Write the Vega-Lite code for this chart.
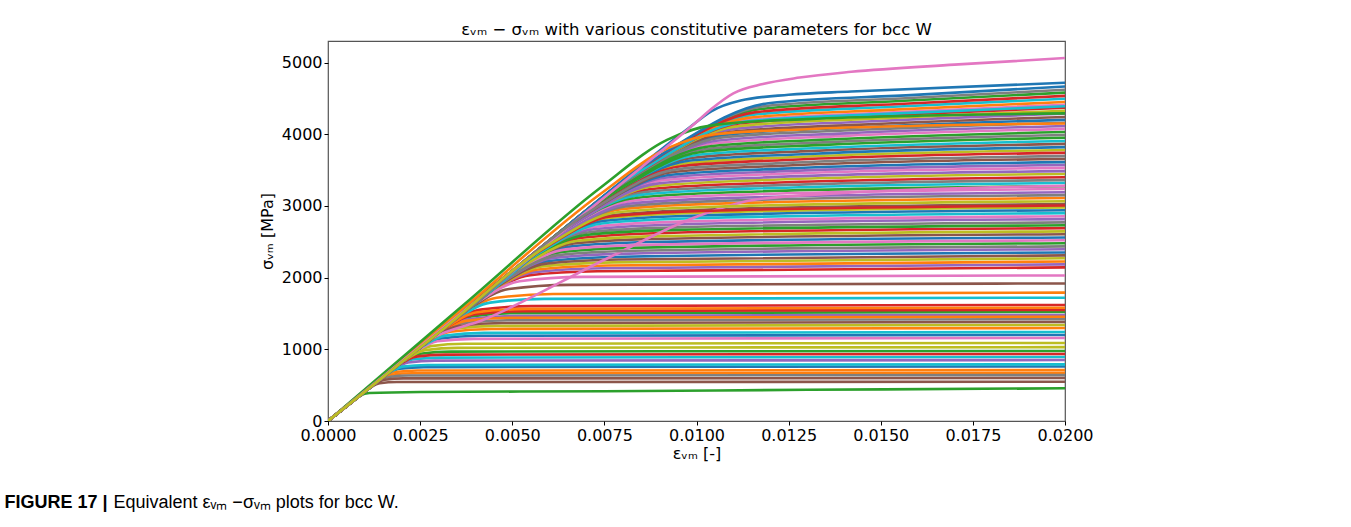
{
  "$schema": "https://vega.github.io/schema/vega-lite/v6.json",
  "width": 737,
  "height": 380,
  "autosize": {"type": "none"},
  "padding": {"left": 328, "top": 41, "right": 286, "bottom": 106},
  "background": "white",
  "title": {
    "text": "εᵥₘ − σᵥₘ with various constitutive parameters for bcc W",
    "font": "DejaVu Sans",
    "fontSize": 16.5,
    "fontWeight": "normal",
    "color": "black",
    "anchor": "middle",
    "offset": 3
  },
  "config": {
    "view": {"stroke": "#555555", "strokeWidth": 1.2},
    "axis": {
      "labelFont": "DejaVu Sans",
      "labelFontSize": 16,
      "labelColor": "black",
      "titleFont": "DejaVu Sans",
      "titleFontSize": 16,
      "titleFontWeight": "normal",
      "titleColor": "black",
      "tickColor": "black",
      "tickSize": 4,
      "labelPadding": 2,
      "domain": false,
      "grid": false,
      "labelFlush": false,
      "labelOverlap": false
    }
  },
  "layer": [
    {
      "data": {
        "values": [
          {"c":0,"e":0,"s":0},{"c":0,"e":0.0025,"s":1024},{"c":0,"e":0.005,"s":2048},{"c":0,"e":0.00656,"s":2432},{"c":0,"e":0.00874,"s":2496},{"c":0,"e":0.02,"s":2560},
          {"c":1,"e":0,"s":0},{"c":1,"e":0.001265,"s":519},{"c":1,"e":0.00253,"s":1038},{"c":1,"e":0.00332,"s":1245},{"c":1,"e":0.00443,"s":1284},{"c":1,"e":0.02,"s":1297},
          {"c":2,"e":0,"s":0},{"c":2,"e":0.00447,"s":1832},{"c":2,"e":0.00894,"s":3664},{"c":2,"e":0.01173,"s":4351},{"c":2,"e":0.01564,"s":4466},{"c":2,"e":0.02,"s":4580},
          {"c":3,"e":0,"s":0},{"c":3,"e":0.00209,"s":857},{"c":3,"e":0.00418,"s":1714},{"c":3,"e":0.00549,"s":2035},{"c":3,"e":0.00731,"s":2088},{"c":3,"e":0.02,"s":2142},
          {"c":4,"e":0,"s":0},{"c":4,"e":0.00418,"s":1714},{"c":4,"e":0.00836,"s":3428},{"c":4,"e":0.01097,"s":4071},{"c":4,"e":0.01463,"s":4178},{"c":4,"e":0.02,"s":4285},
          {"c":5,"e":0,"s":0},{"c":5,"e":0.00377,"s":1546},{"c":5,"e":0.00754,"s":3092},{"c":5,"e":0.0099,"s":3672},{"c":5,"e":0.0132,"s":3768},{"c":5,"e":0.02,"s":3865},
          {"c":6,"e":0,"s":0},{"c":6,"e":0.0043,"s":1764},{"c":6,"e":0.0086,"s":3528},{"c":6,"e":0.01129,"s":4190},{"c":6,"e":0.01506,"s":4300},{"c":6,"e":0.02,"s":4410},
          {"c":7,"e":0,"s":0},{"c":7,"e":0.004505,"s":1848},{"c":7,"e":0.00901,"s":3696},{"c":7,"e":0.01183,"s":4389},{"c":7,"e":0.01578,"s":4505},{"c":7,"e":0.02,"s":4620},
          {"c":8,"e":0,"s":0},{"c":8,"e":0.00369,"s":1512},{"c":8,"e":0.00738,"s":3024},{"c":8,"e":0.00968,"s":3591},{"c":8,"e":0.01291,"s":3686},{"c":8,"e":0.02,"s":3780},
          {"c":9,"e":0,"s":0},{"c":9,"e":0.004385,"s":1798},{"c":9,"e":0.00877,"s":3596},{"c":9,"e":0.01151,"s":4270},{"c":9,"e":0.01535,"s":4383},{"c":9,"e":0.02,"s":4495},
          {"c":10,"e":0,"s":0},{"c":10,"e":0.00117,"s":480},{"c":10,"e":0.00234,"s":960},{"c":10,"e":0.00307,"s":1152},{"c":10,"e":0.0041,"s":1188},{"c":10,"e":0.02,"s":1200},
          {"c":11,"e":0,"s":0},{"c":11,"e":0.00434,"s":1780},{"c":11,"e":0.00868,"s":3560},{"c":11,"e":0.0114,"s":4228},{"c":11,"e":0.0152,"s":4339},{"c":11,"e":0.02,"s":4450},
          {"c":12,"e":0,"s":0},{"c":12,"e":0.000955,"s":391},{"c":12,"e":0.00191,"s":782},{"c":12,"e":0.0025,"s":938},{"c":12,"e":0.00334,"s":967},{"c":12,"e":0.02,"s":977},
          {"c":13,"e":0,"s":0},{"c":13,"e":0.003315,"s":1360},{"c":13,"e":0.00663,"s":2720},{"c":13,"e":0.00871,"s":3230},{"c":13,"e":0.01161,"s":3315},{"c":13,"e":0.02,"s":3400},
          {"c":14,"e":0,"s":0},{"c":14,"e":0.00213,"s":874},{"c":14,"e":0.00426,"s":1748},{"c":14,"e":0.0056,"s":2076},{"c":14,"e":0.00746,"s":2130},{"c":14,"e":0.02,"s":2185},
          {"c":15,"e":0,"s":0},{"c":15,"e":0.000535,"s":219},{"c":15,"e":0.00107,"s":438},{"c":15,"e":0.0014,"s":526},{"c":15,"e":0.00187,"s":543},{"c":15,"e":0.02,"s":548},
          {"c":16,"e":0,"s":0},{"c":16,"e":0.003445,"s":1412},{"c":16,"e":0.00689,"s":2824},{"c":16,"e":0.00904,"s":3354},{"c":16,"e":0.01205,"s":3442},{"c":16,"e":0.02,"s":3530},
          {"c":17,"e":0,"s":0},{"c":17,"e":0.003895,"s":1596},{"c":17,"e":0.00779,"s":3192},{"c":17,"e":0.01022,"s":3791},{"c":17,"e":0.01362,"s":3890},{"c":17,"e":0.02,"s":3990},
          {"c":18,"e":0,"s":0},{"c":18,"e":0.00106,"s":435},{"c":18,"e":0.00212,"s":870},{"c":18,"e":0.00279,"s":1044},{"c":18,"e":0.00372,"s":1077},{"c":18,"e":0.02,"s":1088},
          {"c":19,"e":0,"s":0},{"c":19,"e":0.00087,"s":357},{"c":19,"e":0.00174,"s":714},{"c":19,"e":0.00229,"s":857},{"c":19,"e":0.00305,"s":884},{"c":19,"e":0.02,"s":893},
          {"c":20,"e":0,"s":0},{"c":20,"e":0.003725,"s":1528},{"c":20,"e":0.00745,"s":3056},{"c":20,"e":0.00978,"s":3629},{"c":20,"e":0.01304,"s":3725},{"c":20,"e":0.02,"s":3820},
          {"c":21,"e":0,"s":0},{"c":21,"e":0.000655,"s":269},{"c":21,"e":0.00131,"s":538},{"c":21,"e":0.00172,"s":645},{"c":21,"e":0.00229,"s":665},{"c":21,"e":0.02,"s":672},
          {"c":22,"e":0,"s":0},{"c":22,"e":0.00242,"s":992},{"c":22,"e":0.00484,"s":1984},{"c":22,"e":0.00635,"s":2356},{"c":22,"e":0.00847,"s":2418},{"c":22,"e":0.02,"s":2480},
          {"c":23,"e":0,"s":0},{"c":23,"e":0.00158,"s":647},{"c":23,"e":0.00316,"s":1294},{"c":23,"e":0.00414,"s":1553},{"c":23,"e":0.00552,"s":1602},{"c":23,"e":0.02,"s":1618},
          {"c":24,"e":0,"s":0},{"c":24,"e":0.003485,"s":1428},{"c":24,"e":0.00697,"s":2856},{"c":24,"e":0.00914,"s":3392},{"c":24,"e":0.01219,"s":3481},{"c":24,"e":0.02,"s":3570},
          {"c":25,"e":0,"s":0},{"c":25,"e":0.00295,"s":1210},{"c":25,"e":0.0059,"s":2420},{"c":25,"e":0.00775,"s":2874},{"c":25,"e":0.01033,"s":2949},{"c":25,"e":0.02,"s":3025},
          {"c":26,"e":0,"s":0},{"c":26,"e":0.00113,"s":463},{"c":26,"e":0.00226,"s":926},{"c":26,"e":0.00297,"s":1112},{"c":26,"e":0.00395,"s":1146},{"c":26,"e":0.02,"s":1158},
          {"c":27,"e":0,"s":0},{"c":27,"e":0.001385,"s":568},{"c":27,"e":0.00277,"s":1136},{"c":27,"e":0.00364,"s":1363},{"c":27,"e":0.00485,"s":1406},{"c":27,"e":0.02,"s":1420},
          {"c":28,"e":0,"s":0},{"c":28,"e":0.002905,"s":1192},{"c":28,"e":0.00581,"s":2384},{"c":28,"e":0.00763,"s":2831},{"c":28,"e":0.01018,"s":2906},{"c":28,"e":0.02,"s":2980},
          {"c":29,"e":0,"s":0},{"c":29,"e":0.00381,"s":1562},{"c":29,"e":0.00762,"s":3124},{"c":29,"e":0.01,"s":3710},{"c":29,"e":0.01333,"s":3807},{"c":29,"e":0.02,"s":3905},
          {"c":30,"e":0,"s":0},{"c":30,"e":0.00074,"s":304},{"c":30,"e":0.00148,"s":608},{"c":30,"e":0.00195,"s":730},{"c":30,"e":0.0026,"s":752},{"c":30,"e":0.02,"s":760},
          {"c":31,"e":0,"s":0},{"c":31,"e":0.00217,"s":890},{"c":31,"e":0.00434,"s":1780},{"c":31,"e":0.0057,"s":2114},{"c":31,"e":0.0076,"s":2169},{"c":31,"e":0.02,"s":2225},
          {"c":32,"e":0,"s":0},{"c":32,"e":0.003855,"s":1580},{"c":32,"e":0.00771,"s":3160},{"c":32,"e":0.01012,"s":3753},{"c":32,"e":0.01349,"s":3851},{"c":32,"e":0.02,"s":3950},
          {"c":33,"e":0,"s":0},{"c":33,"e":0.004425,"s":1814},{"c":33,"e":0.00885,"s":3628},{"c":33,"e":0.01161,"s":4308},{"c":33,"e":0.01549,"s":4422},{"c":33,"e":0.02,"s":4535},
          {"c":34,"e":0,"s":0},{"c":34,"e":0.00083,"s":340},{"c":34,"e":0.00166,"s":680},{"c":34,"e":0.00218,"s":816},{"c":34,"e":0.0029,"s":842},{"c":34,"e":0.02,"s":850},
          {"c":35,"e":0,"s":0},{"c":35,"e":0.00254,"s":1042},{"c":35,"e":0.00508,"s":2084},{"c":35,"e":0.00667,"s":2475},{"c":35,"e":0.0089,"s":2540},{"c":35,"e":0.02,"s":2605},
          {"c":36,"e":0,"s":0},{"c":36,"e":0.002785,"s":1142},{"c":36,"e":0.00557,"s":2284},{"c":36,"e":0.00731,"s":2712},{"c":36,"e":0.00975,"s":2784},{"c":36,"e":0.02,"s":2855},
          {"c":37,"e":0,"s":0},{"c":37,"e":0.00328,"s":1344},{"c":37,"e":0.00656,"s":2688},{"c":37,"e":0.0086,"s":3192},{"c":37,"e":0.01147,"s":3276},{"c":37,"e":0.02,"s":3360},
          {"c":38,"e":0,"s":0},{"c":38,"e":0.00336,"s":1378},{"c":38,"e":0.00672,"s":2756},{"c":38,"e":0.00882,"s":3273},{"c":38,"e":0.01176,"s":3359},{"c":38,"e":0.02,"s":3445},
          {"c":39,"e":0,"s":0},{"c":39,"e":0.00121,"s":497},{"c":39,"e":0.00242,"s":993},{"c":39,"e":0.00318,"s":1191},{"c":39,"e":0.00424,"s":1229},{"c":39,"e":0.02,"s":1241},
          {"c":40,"e":0,"s":0},{"c":40,"e":0.00287,"s":1176},{"c":40,"e":0.00574,"s":2352},{"c":40,"e":0.00753,"s":2793},{"c":40,"e":0.01004,"s":2867},{"c":40,"e":0.02,"s":2940},
          {"c":41,"e":0,"s":0},{"c":41,"e":0.001745,"s":716},{"c":41,"e":0.00349,"s":1432},{"c":41,"e":0.00458,"s":1718},{"c":41,"e":0.00611,"s":1772},{"c":41,"e":0.02,"s":1790},
          {"c":42,"e":0,"s":0},{"c":42,"e":0.001485,"s":608},{"c":42,"e":0.00297,"s":1216},{"c":42,"e":0.00389,"s":1459},{"c":42,"e":0.00519,"s":1505},{"c":42,"e":0.02,"s":1520},
          {"c":43,"e":0,"s":0},{"c":43,"e":0.00091,"s":374},{"c":43,"e":0.00182,"s":748},{"c":43,"e":0.00239,"s":898},{"c":43,"e":0.00319,"s":926},{"c":43,"e":0.02,"s":935},
          {"c":44,"e":0,"s":0},{"c":44,"e":0.002745,"s":1126},{"c":44,"e":0.00549,"s":2252},{"c":44,"e":0.00721,"s":2674},{"c":44,"e":0.00961,"s":2745},{"c":44,"e":0.02,"s":2815},
          {"c":45,"e":0,"s":0},{"c":45,"e":0.00187,"s":767},{"c":45,"e":0.00374,"s":1534},{"c":45,"e":0.00491,"s":1841},{"c":45,"e":0.00655,"s":1899},{"c":45,"e":0.02,"s":1918},
          {"c":46,"e":0,"s":0},{"c":46,"e":0.003975,"s":1630},{"c":46,"e":0.00795,"s":3260},{"c":46,"e":0.01044,"s":3871},{"c":46,"e":0.01391,"s":3973},{"c":46,"e":0.02,"s":4075},
          {"c":47,"e":0,"s":0},{"c":47,"e":0.000625,"s":256},{"c":47,"e":0.00125,"s":512},{"c":47,"e":0.00164,"s":614},{"c":47,"e":0.00219,"s":634},{"c":47,"e":0.02,"s":640},
          {"c":48,"e":0,"s":0},{"c":48,"e":0.001305,"s":536},{"c":48,"e":0.00261,"s":1072},{"c":48,"e":0.00343,"s":1286},{"c":48,"e":0.00458,"s":1327},{"c":48,"e":0.02,"s":1340},
          {"c":49,"e":0,"s":0},{"c":49,"e":0.00324,"s":1328},{"c":49,"e":0.00648,"s":2656},{"c":49,"e":0.0085,"s":3154},{"c":49,"e":0.01134,"s":3237},{"c":49,"e":0.02,"s":3320},
          {"c":50,"e":0,"s":0},{"c":50,"e":0.0041,"s":1680},{"c":50,"e":0.0082,"s":3360},{"c":50,"e":0.01076,"s":3990},{"c":50,"e":0.01434,"s":4095},{"c":50,"e":0.02,"s":4200},
          {"c":51,"e":0,"s":0},{"c":51,"e":0.000695,"s":285},{"c":51,"e":0.00139,"s":569},{"c":51,"e":0.00182,"s":683},{"c":51,"e":0.00243,"s":704},{"c":51,"e":0.02,"s":711},
          {"c":52,"e":0,"s":0},{"c":52,"e":0.003195,"s":1310},{"c":52,"e":0.00639,"s":2620},{"c":52,"e":0.00839,"s":3111},{"c":52,"e":0.01118,"s":3193},{"c":52,"e":0.02,"s":3275},
          {"c":53,"e":0,"s":0},{"c":53,"e":0.00365,"s":1496},{"c":53,"e":0.0073,"s":2992},{"c":53,"e":0.00958,"s":3553},{"c":53,"e":0.01277,"s":3647},{"c":53,"e":0.02,"s":3740},
          {"c":54,"e":0,"s":0},{"c":54,"e":0.004015,"s":1646},{"c":54,"e":0.00803,"s":3292},{"c":54,"e":0.01054,"s":3909},{"c":54,"e":0.01405,"s":4012},{"c":54,"e":0.02,"s":4115},
          {"c":55,"e":0,"s":0},{"c":55,"e":0.004135,"s":1696},{"c":55,"e":0.00827,"s":3392},{"c":55,"e":0.01086,"s":4028},{"c":55,"e":0.01448,"s":4134},{"c":55,"e":0.02,"s":4240},
          {"c":56,"e":0,"s":0},{"c":56,"e":0.00198,"s":812},{"c":56,"e":0.00396,"s":1624},{"c":56,"e":0.0052,"s":1949},{"c":56,"e":0.00693,"s":2010},{"c":56,"e":0.02,"s":2030},
          {"c":57,"e":0,"s":0},{"c":57,"e":0.0027,"s":1108},{"c":57,"e":0.0054,"s":2216},{"c":57,"e":0.00709,"s":2632},{"c":57,"e":0.00946,"s":2701},{"c":57,"e":0.02,"s":2770},
          {"c":58,"e":0,"s":0},{"c":58,"e":0.002215,"s":908},{"c":58,"e":0.00443,"s":1816},{"c":58,"e":0.00581,"s":2157},{"c":58,"e":0.00775,"s":2213},{"c":58,"e":0.02,"s":2270},
          {"c":59,"e":0,"s":0},{"c":59,"e":0.00168,"s":688},{"c":59,"e":0.00336,"s":1376},{"c":59,"e":0.0044,"s":1651},{"c":59,"e":0.00587,"s":1703},{"c":59,"e":0.02,"s":1720},
          {"c":60,"e":0,"s":0},{"c":60,"e":0.002295,"s":940},{"c":60,"e":0.00459,"s":1880},{"c":60,"e":0.00602,"s":2233},{"c":60,"e":0.00802,"s":2291},{"c":60,"e":0.02,"s":2350},
          {"c":61,"e":0,"s":0},{"c":61,"e":0.003035,"s":1244},{"c":61,"e":0.00607,"s":2488},{"c":61,"e":0.00796,"s":2955},{"c":61,"e":0.01062,"s":3032},{"c":61,"e":0.02,"s":3110},
          {"c":62,"e":0,"s":0},{"c":62,"e":0.000425,"s":175},{"c":62,"e":0.00085,"s":349},{"c":62,"e":0.00112,"s":390},{"c":62,"e":0.0025,"s":405},{"c":62,"e":0.0075,"s":415},{"c":62,"e":0.013,"s":435},{"c":62,"e":0.02,"s":456},
          {"c":63,"e":0,"s":0},{"c":63,"e":0.002625,"s":1076},{"c":63,"e":0.00525,"s":2152},{"c":63,"e":0.00689,"s":2556},{"c":63,"e":0.00919,"s":2623},{"c":63,"e":0.02,"s":2690},
          {"c":64,"e":0,"s":0},{"c":64,"e":0.001445,"s":592},{"c":64,"e":0.00289,"s":1183},{"c":64,"e":0.00379,"s":1420},{"c":64,"e":0.00505,"s":1464},{"c":64,"e":0.02,"s":1479},
          {"c":65,"e":0,"s":0},{"c":65,"e":0.000585,"s":240},{"c":65,"e":0.00117,"s":480},{"c":65,"e":0.00154,"s":576},{"c":65,"e":0.00205,"s":594},{"c":65,"e":0.02,"s":600},
          {"c":66,"e":0,"s":0},{"c":66,"e":0.003155,"s":1294},{"c":66,"e":0.00631,"s":2588},{"c":66,"e":0.00828,"s":3073},{"c":66,"e":0.01105,"s":3154},{"c":66,"e":0.02,"s":3235},
          {"c":67,"e":0,"s":0},{"c":67,"e":0.003075,"s":1260},{"c":67,"e":0.00615,"s":2520},{"c":67,"e":0.00807,"s":2993},{"c":67,"e":0.01076,"s":3071},{"c":67,"e":0.02,"s":3150},
          {"c":68,"e":0,"s":0},{"c":68,"e":0.00422,"s":1730},{"c":68,"e":0.00844,"s":3460},{"c":68,"e":0.01108,"s":4109},{"c":68,"e":0.01477,"s":4217},{"c":68,"e":0.02,"s":4325},
          {"c":69,"e":0,"s":0},{"c":69,"e":0.00077,"s":316},{"c":69,"e":0.00154,"s":632},{"c":69,"e":0.00202,"s":758},{"c":69,"e":0.0027,"s":782},{"c":69,"e":0.02,"s":790},
          {"c":70,"e":0,"s":0},{"c":70,"e":0.00352,"s":1444},{"c":70,"e":0.00704,"s":2888},{"c":70,"e":0.00925,"s":3430},{"c":70,"e":0.01233,"s":3520},{"c":70,"e":0.02,"s":3610},
          {"c":71,"e":0,"s":0},{"c":71,"e":0.00142,"s":582},{"c":71,"e":0.00284,"s":1164},{"c":71,"e":0.00373,"s":1397},{"c":71,"e":0.00497,"s":1440},{"c":71,"e":0.02,"s":1455},
          {"c":72,"e":0,"s":0},{"c":72,"e":0.002665,"s":1092},{"c":72,"e":0.00533,"s":2184},{"c":72,"e":0.00699,"s":2594},{"c":72,"e":0.00932,"s":2662},{"c":72,"e":0.02,"s":2730},
          {"c":73,"e":0,"s":0},{"c":73,"e":0.00151,"s":619},{"c":73,"e":0.00302,"s":1238},{"c":73,"e":0.00396,"s":1486},{"c":73,"e":0.00529,"s":1533},{"c":73,"e":0.02,"s":1548},
          {"c":74,"e":0,"s":0},{"c":74,"e":0.00311,"s":1276},{"c":74,"e":0.00622,"s":2552},{"c":74,"e":0.00817,"s":3031},{"c":74,"e":0.01089,"s":3110},{"c":74,"e":0.02,"s":3190},
          {"c":75,"e":0,"s":0},{"c":75,"e":0.002255,"s":924},{"c":75,"e":0.00451,"s":1848},{"c":75,"e":0.00592,"s":2195},{"c":75,"e":0.00789,"s":2252},{"c":75,"e":0.02,"s":2310},
          {"c":76,"e":0,"s":0},{"c":76,"e":0.00246,"s":1008},{"c":76,"e":0.00492,"s":2016},{"c":76,"e":0.00645,"s":2394},{"c":76,"e":0.0086,"s":2457},{"c":76,"e":0.02,"s":2520},
          {"c":77,"e":0,"s":0},{"c":77,"e":0.00406,"s":1664},{"c":77,"e":0.00812,"s":3328},{"c":77,"e":0.01065,"s":3952},{"c":77,"e":0.0142,"s":4056},{"c":77,"e":0.02,"s":4160},
          {"c":78,"e":0,"s":0},{"c":78,"e":0.00258,"s":1058},{"c":78,"e":0.00516,"s":2116},{"c":78,"e":0.00677,"s":2513},{"c":78,"e":0.00903,"s":2579},{"c":78,"e":0.02,"s":2645},
          {"c":79,"e":0,"s":0},{"c":79,"e":0.00283,"s":1160},{"c":79,"e":0.00566,"s":2320},{"c":79,"e":0.00743,"s":2755},{"c":79,"e":0.0099,"s":2828},{"c":79,"e":0.02,"s":2900},
          {"c":80,"e":0,"s":0},{"c":80,"e":0.00455,"s":1866},{"c":80,"e":0.0091,"s":3732},{"c":80,"e":0.01195,"s":4432},{"c":80,"e":0.01593,"s":4548},{"c":80,"e":0.02,"s":4665},
          {"c":81,"e":0,"s":0},{"c":81,"e":0.00154,"s":632},{"c":81,"e":0.00308,"s":1264},{"c":81,"e":0.00405,"s":1517},{"c":81,"e":0.0054,"s":1564},{"c":81,"e":0.02,"s":1580},
          {"c":82,"e":0,"s":0},{"c":82,"e":0.00393,"s":1612},{"c":82,"e":0.00786,"s":3224},{"c":82,"e":0.01032,"s":3829},{"c":82,"e":0.01376,"s":3929},{"c":82,"e":0.02,"s":4030},
          {"c":83,"e":0,"s":0},{"c":83,"e":0.004265,"s":1748},{"c":83,"e":0.00853,"s":3496},{"c":83,"e":0.01119,"s":4152},{"c":83,"e":0.01492,"s":4261},{"c":83,"e":0.02,"s":4370},
          {"c":84,"e":0,"s":0},{"c":84,"e":0.002335,"s":958},{"c":84,"e":0.00467,"s":1916},{"c":84,"e":0.00613,"s":2275},{"c":84,"e":0.00818,"s":2335},{"c":84,"e":0.02,"s":2395},
          {"c":85,"e":0,"s":0},{"c":85,"e":0.001345,"s":552},{"c":85,"e":0.00269,"s":1105},{"c":85,"e":0.00354,"s":1326},{"c":85,"e":0.00472,"s":1367},{"c":85,"e":0.02,"s":1381},
          {"c":86,"e":0,"s":0},{"c":86,"e":0.0014,"s":575},{"c":86,"e":0.0028,"s":1150},{"c":86,"e":0.0042,"s":1409},{"c":86,"e":0.0076,"s":2274},{"c":86,"e":0.01,"s":2850},{"c":86,"e":0.0115,"s":3080},{"c":86,"e":0.014,"s":3180},{"c":86,"e":0.02,"s":3280},
          {"c":87,"e":0,"s":0},{"c":87,"e":0.002375,"s":974},{"c":87,"e":0.00475,"s":1948},{"c":87,"e":0.00624,"s":2313},{"c":87,"e":0.00831,"s":2374},{"c":87,"e":0.02,"s":2435},
          {"c":88,"e":0,"s":0},{"c":88,"e":0.001005,"s":412},{"c":88,"e":0.00201,"s":824},{"c":88,"e":0.00264,"s":989},{"c":88,"e":0.00352,"s":1020},{"c":88,"e":0.02,"s":1030},
          {"c":89,"e":0,"s":0},{"c":89,"e":0.004285,"s":1756},{"c":89,"e":0.00857,"s":3512},{"c":89,"e":0.01124,"s":4171},{"c":89,"e":0.01499,"s":4280},{"c":89,"e":0.02,"s":4390},
          {"c":90,"e":0,"s":0},{"c":90,"e":0.0052,"s":2170},{"c":90,"e":0.0098,"s":4090},{"c":90,"e":0.0104,"s":4320},{"c":90,"e":0.0112,"s":4470},{"c":90,"e":0.0125,"s":4550},{"c":90,"e":0.0142,"s":4595},{"c":90,"e":0.02,"s":4718},
          {"c":91,"e":0,"s":0},{"c":91,"e":0.0037,"s":1585},{"c":91,"e":0.0074,"s":3170},{"c":91,"e":0.0092,"s":3800},{"c":91,"e":0.0105,"s":4000},{"c":91,"e":0.013,"s":4070},{"c":91,"e":0.02,"s":4150},
          {"c":92,"e":0,"s":0},{"c":92,"e":0.0037,"s":1628},{"c":92,"e":0.0074,"s":3256},{"c":92,"e":0.0092,"s":3920},{"c":92,"e":0.0105,"s":4130},{"c":92,"e":0.013,"s":4210},{"c":92,"e":0.02,"s":4290},
          {"c":93,"e":0,"s":0},{"c":93,"e":0.00293,"s":1202},{"c":93,"e":0.00586,"s":2404},{"c":93,"e":0.0077,"s":2855},{"c":93,"e":0.01026,"s":2930},{"c":93,"e":0.02,"s":3005},
          {"c":94,"e":0,"s":0},{"c":94,"e":0.0034,"s":1394},{"c":94,"e":0.0068,"s":2788},{"c":94,"e":0.00893,"s":3311},{"c":94,"e":0.0119,"s":3398},{"c":94,"e":0.02,"s":3485},
          {"c":95,"e":0,"s":0},{"c":95,"e":0.003565,"s":1462},{"c":95,"e":0.00713,"s":2924},{"c":95,"e":0.00936,"s":3472},{"c":95,"e":0.01248,"s":3564},{"c":95,"e":0.02,"s":3655},
          {"c":96,"e":0,"s":0},{"c":96,"e":0.00425,"s":1768},{"c":96,"e":0.0085,"s":3536},{"c":96,"e":0.01,"s":4170},{"c":96,"e":0.0104,"s":4350},{"c":96,"e":0.011,"s":4570},{"c":96,"e":0.0118,"s":4700},{"c":96,"e":0.0128,"s":4790},{"c":96,"e":0.0142,"s":4870},{"c":96,"e":0.017,"s":4970},{"c":96,"e":0.02,"s":5062},
          {"c":97,"e":0,"s":0},{"c":97,"e":0.003605,"s":1478},{"c":97,"e":0.00721,"s":2956},{"c":97,"e":0.00946,"s":3510},{"c":97,"e":0.01262,"s":3603},{"c":97,"e":0.02,"s":3695},
          {"c":98,"e":0,"s":0},{"c":98,"e":0.00299,"s":1226},{"c":98,"e":0.00598,"s":2452},{"c":98,"e":0.00785,"s":2912},{"c":98,"e":0.01047,"s":2988},{"c":98,"e":0.02,"s":3065}
        ]
      },
      "mark": {"type": "line", "interpolate": "monotone", "strokeWidth": 2.6, "clip": true},
      "encoding": {
        "x": {
          "field": "e",
          "type": "quantitative",
          "scale": {"domain": [0, 0.02], "nice": false, "zero": false},
          "axis": {
            "values": [0, 0.0025, 0.005, 0.0075, 0.01, 0.0125, 0.015, 0.0175, 0.02],
            "format": ".4f",
            "title": "εᵥₘ [-]",
            "titlePadding": 2
          }
        },
        "y": {
          "field": "s",
          "type": "quantitative",
          "scale": {"domain": [0, 5300], "nice": false},
          "axis": {
            "values": [0, 1000, 2000, 3000, 4000, 5000],
            "format": "d",
            "title": "σᵥₘ [MPa]",
            "titlePadding": 6
          }
        },
        "color": {
          "field": "c",
          "type": "nominal",
          "legend": null,
          "scale": {"range": ["#1f77b4", "#ff7f0e", "#2ca02c", "#d62728", "#9467bd", "#8c564b", "#e377c2", "#7f7f7f", "#bcbd22", "#17becf"]}
        }
      }
    },
    {
      "data": {"values": [{"e": 0}]},
      "mark": {"type": "rule", "opacity": 0},
      "encoding": {
        "x": {
          "field": "e",
          "type": "quantitative",
          "axis": {
            "orient": "bottom",
            "domain": false,
            "ticks": false,
            "labels": false,
            "title": "FIGURE 17 |",
            "titleFont": "Liberation Sans",
            "titleFontWeight": "bold",
            "titleFontSize": 18,
            "titleAnchor": "start",
            "titleAlign": "left",
            "titleBaseline": "alphabetic",
            "titleX": -324,
            "titleY": 86
          }
        }
      }
    },
    {
      "data": {"values": [{"e": 0}]},
      "mark": {"type": "rule", "opacity": 0},
      "encoding": {
        "x": {
          "field": "e",
          "type": "quantitative",
          "axis": {
            "orient": "bottom",
            "domain": false,
            "ticks": false,
            "labels": false,
            "title": "Equivalent εᵥₘ −σᵥₘ plots for bcc W.",
            "titleFont": "Liberation Sans",
            "titleFontWeight": "normal",
            "titleFontSize": 18,
            "titleAnchor": "start",
            "titleAlign": "left",
            "titleBaseline": "alphabetic",
            "titleX": -215,
            "titleY": 86
          }
        }
      }
    }
  ],
  "resolve": {"axis": {"x": "independent"}}
}
